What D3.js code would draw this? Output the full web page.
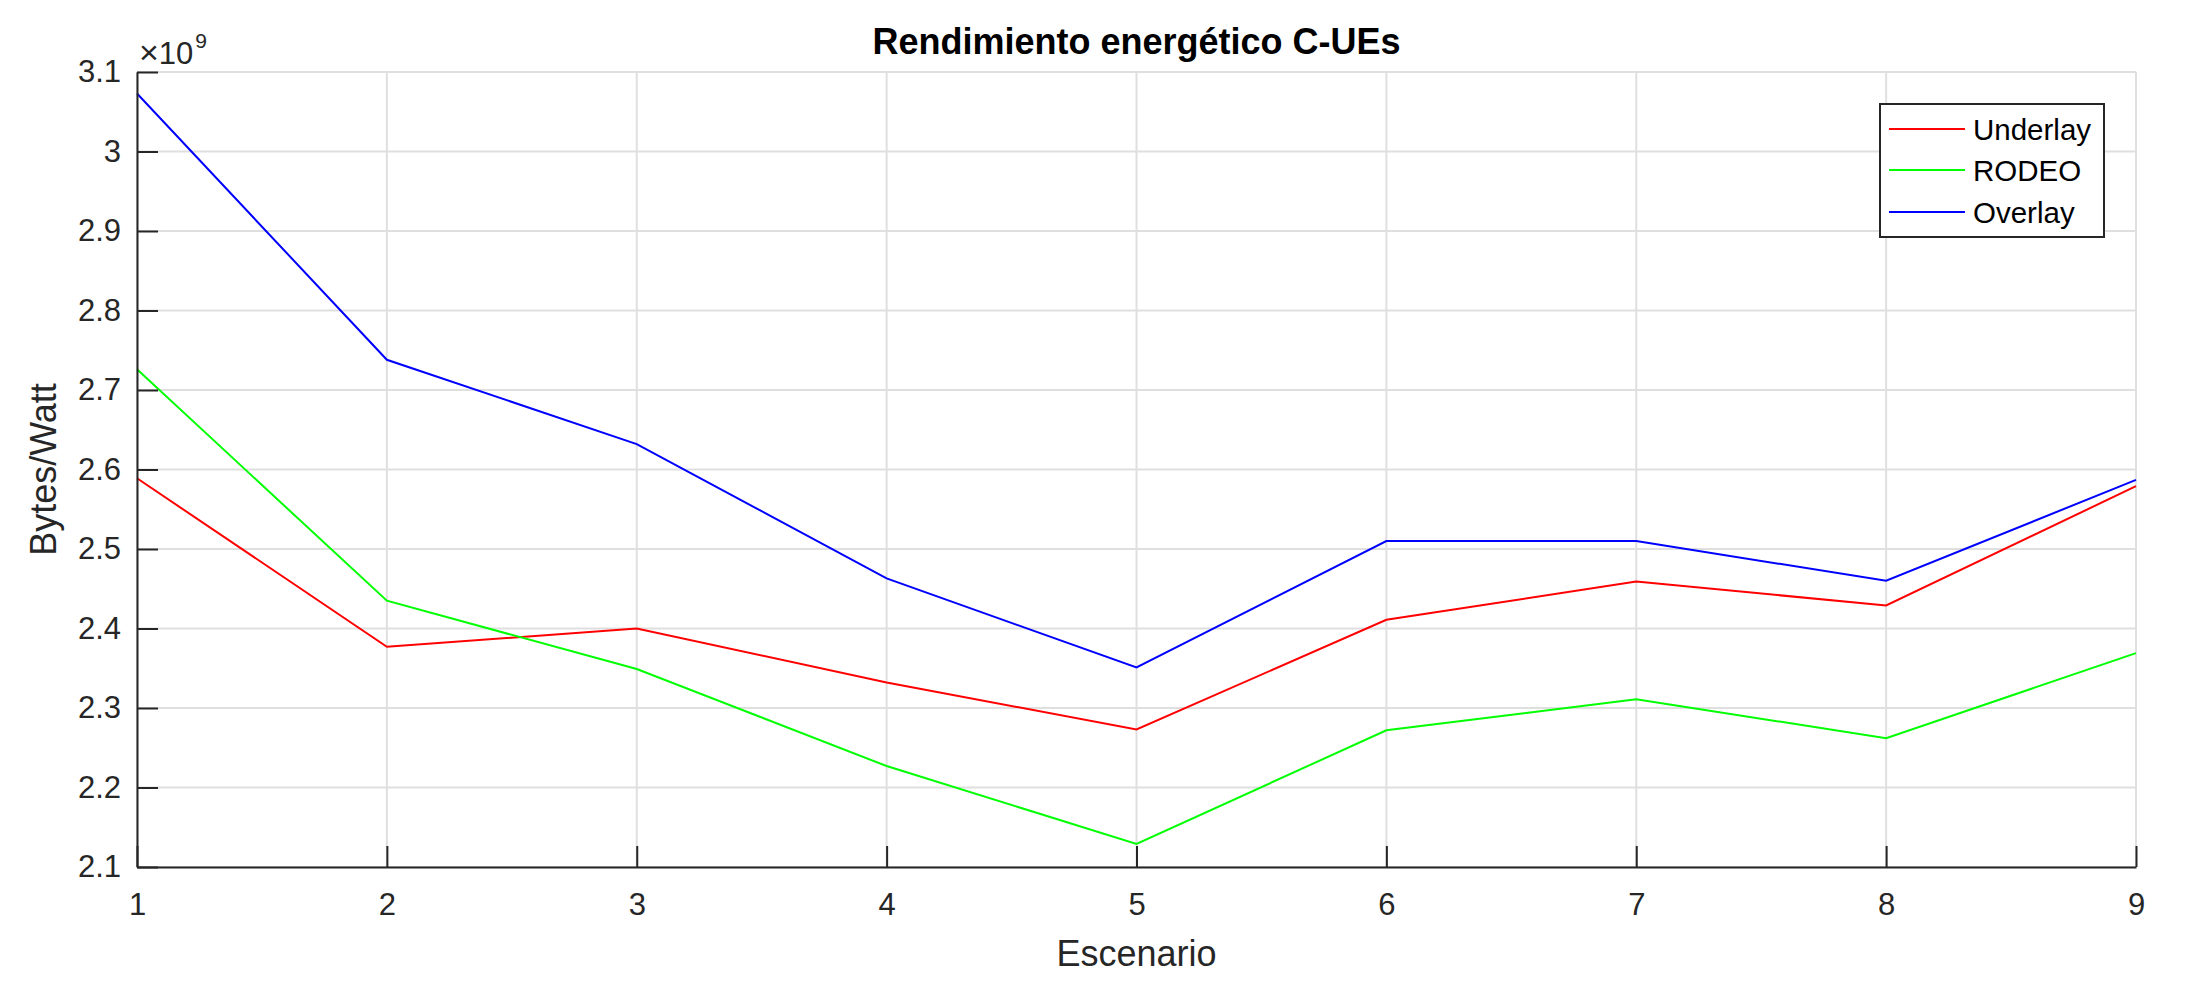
<!DOCTYPE html>
<html><head><meta charset="utf-8">
<script src="https://cdn.jsdelivr.net/npm/d3@7"></script>
<style>body{margin:0;background:#fff}svg{display:block}text{font-family:"Liberation Sans",Arial,sans-serif}</style>
</head><body>
<script>
const scenarios = [1,2,3,4,5,6,7,8,9];
const underlay = [2.589,2.377,2.400,2.332,2.273,2.411,2.459,2.429,2.579];
const rodeo    = [2.726,2.435,2.349,2.227,2.129,2.272,2.311,2.262,2.369];
const overlay  = [3.073,2.738,2.632,2.463,2.351,2.510,2.510,2.460,2.587];
const seriesNames = ["Underlay","RODEO","Overlay"];
const seriesColors = ["#ff0000","#00ff00","#0000ff"];
const yTicks = [2.1,2.2,2.3,2.4,2.5,2.6,2.7,2.8,2.9,3.0,3.1];
const xTicks = [1,2,3,4,5,6,7,8,9];

const W=2188,H=996;
const L=137,R=2136,T=72,B=867;
const svg=d3.select("body").append("svg").attr("width",W).attr("height",H);
const x=d3.scaleLinear().domain([1,9]).range([L,R]);
const y=d3.scaleLinear().domain([2.1,3.1]).range([B,T]);
const axisCol="#262626";

// grid
const g=svg.append("g");
g.selectAll(".vg").data(xTicks).join("line").attr("x1",d=>x(d)).attr("x2",d=>x(d)).attr("y1",T).attr("y2",B)
 .attr("stroke","#dfdfdf").attr("stroke-width",2);
g.selectAll(".hg").data(yTicks).join("line").attr("y1",d=>y(d)).attr("y2",d=>y(d)).attr("x1",L).attr("x2",R)
 .attr("stroke","#dfdfdf").attr("stroke-width",2);

// lines
const data=[underlay,rodeo,overlay];
const line=d3.line().x((d,i)=>x(scenarios[i])).y(d=>y(d));
data.forEach((s,k)=>{
  svg.append("path").attr("d",line(s)).attr("fill","none").attr("stroke",seriesColors[k]).attr("stroke-width",2);
});

// axes
const xAxis=d3.axisBottom(x).tickValues(xTicks).tickSizeInner(-21).tickSizeOuter(0).tickPadding(26).tickFormat(d3.format("d"));
const xa=svg.append("g").attr("transform",`translate(0,${B})`).call(xAxis);
const yAxis=d3.axisLeft(y).tickValues(yTicks).tickSizeInner(-21).tickSizeOuter(0).tickPadding(16).tickFormat(d=>d3.format(".1f")(d).replace(/\.0$/,""));
const ya=svg.append("g").attr("transform",`translate(${L},0)`).call(yAxis);
[xa,ya].forEach(a=>{
  a.selectAll("path.domain").attr("stroke",axisCol).attr("stroke-width",2);
  a.selectAll(".tick line").attr("stroke",axisCol).attr("stroke-width",2);
  a.selectAll(".tick text").attr("fill",axisCol).style("font-size","31px").style("font-family","Liberation Sans, Arial, sans-serif");
});
xa.selectAll(".tick text").attr("dy","0.71em");

// exponent
const ex=svg.append("text").attr("x",139).attr("y",64).attr("fill",axisCol).style("font-size","31px");
ex.append("tspan").text("×").style("font-size","34px");
ex.append("tspan").text("10");
ex.append("tspan").attr("dy",-16).attr("dx",2).style("font-size","21px").text("9");

// title
svg.append("text").attr("x",(L+R)/2).attr("y",54).attr("text-anchor","middle").style("font-size","36px").style("font-weight","bold").attr("fill","#000").text("Rendimiento energético C-UEs");
// axis labels
svg.append("text").attr("x",(L+R)/2).attr("y",966).attr("text-anchor","middle").style("font-size","36px").attr("fill",axisCol).text("Escenario");
svg.append("text").attr("transform",`translate(56,${(T+B)/2}) rotate(-90)`).attr("text-anchor","middle").style("font-size","36px").attr("fill",axisCol).text("Bytes/Watt");

// legend
const lg=svg.append("g");
lg.append("rect").attr("x",1880).attr("y",104).attr("width",224).attr("height",133).attr("fill","#fff").attr("stroke",axisCol).attr("stroke-width",2);
const rows=[129,170,212];
seriesNames.forEach((n,k)=>{
  lg.append("line").attr("x1",1889).attr("x2",1965).attr("y1",rows[k]).attr("y2",rows[k]).attr("stroke",seriesColors[k]).attr("stroke-width",2);
  lg.append("text").attr("x",1973).attr("y",rows[k]).attr("dy","0.36em").style("font-size","29.5px").attr("fill","#000").text(n);
});
</script>
</body></html>
